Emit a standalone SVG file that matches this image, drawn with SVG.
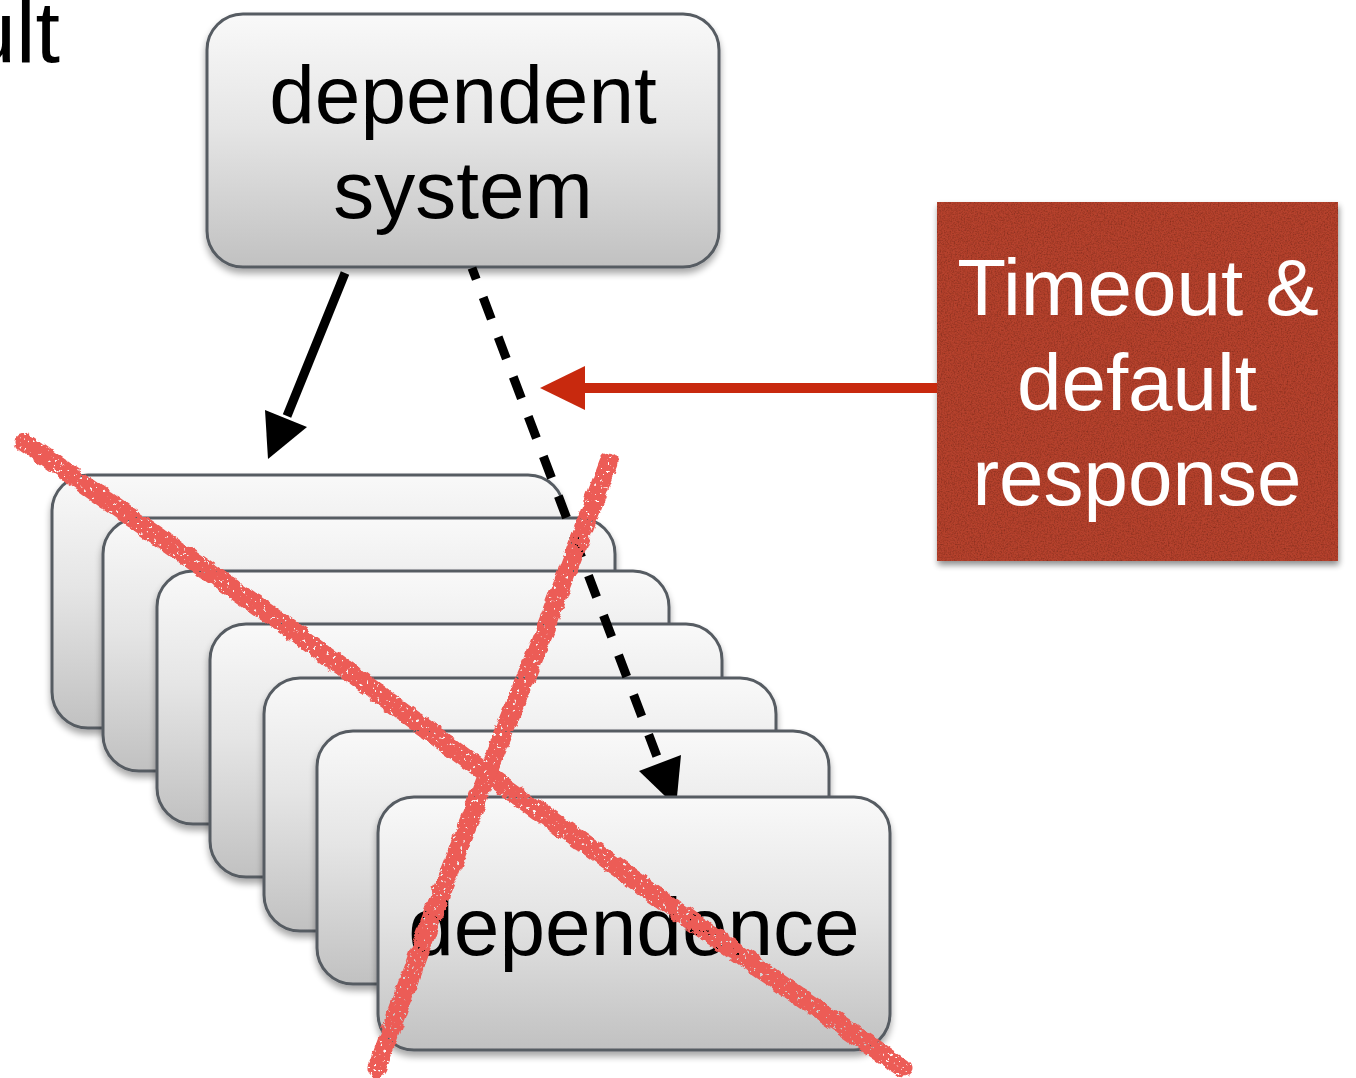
<svg xmlns="http://www.w3.org/2000/svg" width="1356" height="1078" viewBox="0 0 1356 1078">
  <defs>
    <style>
      .card { fill: url(#cardFill); stroke: #565b62; stroke-width: 3; filter: url(#cardShadow); }
      .label { font-family: "Liberation Sans", Arial, Helvetica, sans-serif; font-size: 82px; fill: #000; text-anchor: middle; }
      .note { font-family: "Liberation Sans", Arial, Helvetica, sans-serif; font-size: 80px; fill: #fff; text-anchor: middle; }
      .ink { fill: none; stroke: #000; stroke-width: 9; }
      .cross { fill: none; stroke: #ec5b56; stroke-width: 19; stroke-linecap: round; stroke-linejoin: round; }
    </style>
    <linearGradient id="cardFill" x1="0" y1="0" x2="0" y2="1">
      <stop offset="0" stop-color="#f9f9f9"/>
      <stop offset="0.45" stop-color="#e5e5e5"/>
      <stop offset="1" stop-color="#c1c1c1"/>
    </linearGradient>
    <filter id="cardShadow" x="-10%" y="-10%" width="120%" height="130%">
      <feGaussianBlur in="SourceAlpha" stdDeviation="3.5"/>
      <feOffset dx="0" dy="5" result="b"/>
      <feComponentTransfer><feFuncA type="linear" slope="0.35"/></feComponentTransfer>
      <feMerge><feMergeNode/><feMergeNode in="SourceGraphic"/></feMerge>
    </filter>
    <filter id="noteShadow" x="-10%" y="-10%" width="120%" height="120%">
      <feGaussianBlur in="SourceAlpha" stdDeviation="3"/>
      <feOffset dx="1" dy="4"/>
      <feComponentTransfer><feFuncA type="linear" slope="0.45"/></feComponentTransfer>
      <feMerge><feMergeNode/><feMergeNode in="SourceGraphic"/></feMerge>
    </filter>
    <!-- faint paper grain for the red note -->
    <filter id="paper" x="0" y="0" width="100%" height="100%">
      <feTurbulence type="fractalNoise" baseFrequency="0.7" numOctaves="3" seed="4" result="n"/>
      <feColorMatrix in="n" type="matrix" values="0 0 0 0 0  0 0 0 0 0  0 0 0 0 0  0 0 0 -0.9 0.55" result="speck"/>
      <feComposite in="speck" in2="SourceGraphic" operator="in" result="grain"/>
      <feMerge><feMergeNode in="SourceGraphic"/><feMergeNode in="grain"/></feMerge>
    </filter>
    <!-- crayon-like roughness for the cross-out strokes -->
    <filter id="rough" x="-5%" y="-5%" width="110%" height="110%">
      <feTurbulence type="fractalNoise" baseFrequency="0.1" numOctaves="2" seed="7" result="t"/>
      <feDisplacementMap in="SourceGraphic" in2="t" scale="7" xChannelSelector="R" yChannelSelector="G" result="d"/>
      <feTurbulence type="fractalNoise" baseFrequency="0.3" numOctaves="2" seed="3" result="h"/>
      <feColorMatrix in="h" type="matrix" values="0 0 0 0 0  0 0 0 0 0  0 0 0 0 0  0 0 0 -14 10.4" result="holes"/>
      <feComposite in="d" in2="holes" operator="in"/>
    </filter>
  </defs>

  <!-- clipped text from the left edge -->
  <text x="60" y="62" font-family="Liberation Sans, Arial, sans-serif" font-size="88" text-anchor="end" fill="#000">ult</text>

  <g id="dependent-system">
    <rect class="card" x="207" y="14" width="512" height="253" rx="36" ry="36"/>
    <text class="label" x="463" y="123">dependent</text>
    <text class="label" x="463" y="218">system</text>
  </g>

  <g id="dependence-stack">
    <rect class="card" x="52" y="475" width="512" height="253" rx="36" ry="36"/>
    <rect class="card" x="103" y="518" width="512" height="253" rx="36" ry="36"/>
    <rect class="card" x="157" y="571" width="512" height="253" rx="36" ry="36"/>
    <rect class="card" x="210" y="624" width="512" height="253" rx="36" ry="36"/>
    <rect class="card" x="264" y="678" width="512" height="253" rx="36" ry="36"/>
    <rect class="card" x="317" y="731" width="512" height="253" rx="36" ry="36"/>
  </g>

  <g id="timeout-note">
    <rect x="937" y="202" width="401" height="359" fill="#b5422f" filter="url(#noteShadow)"/>
    <rect x="937" y="202" width="401" height="359" fill="#b5422f" filter="url(#paper)"/>
    <text class="note" x="1138" y="315">Timeout &amp;</text>
    <text class="note" x="1137" y="410">default</text>
    <text class="note" x="1137" y="505">response</text>
  </g>

  <g id="connectors">
    <!-- direct call -->
    <line class="ink" x1="345" y1="273" x2="287" y2="416"/>
    <polygon points="268,459 265,410 307,427" fill="#000"/>
    <!-- guarded call -->
    <line class="ink" x1="472" y1="268" x2="659" y2="762" stroke-dasharray="23 19.5" stroke-dashoffset="11"/>
    <polygon points="639,771 681,755 677,797 666,797" fill="#000"/>
    <!-- timeout wrapper -->
    <line x1="937" y1="388" x2="582" y2="388" stroke="#c8290e" stroke-width="10"/>
    <polygon points="540,388 585,366 585,410" fill="#c8290e"/>
  </g>

  <g id="dependence">
    <rect class="card" x="378" y="797" width="512" height="253" rx="36" ry="36"/>
    <text class="label" x="634" y="955">dependence</text>
  </g>

  <g id="cross-out" filter="url(#rough)">
    <path class="cross" d="M24,442 L300,636 L487,774 L700,927 L903,1068"/>
    <path class="cross" d="M609,462 L545,630 L487,774 L430,922 L377,1068"/>
  </g>
</svg>
